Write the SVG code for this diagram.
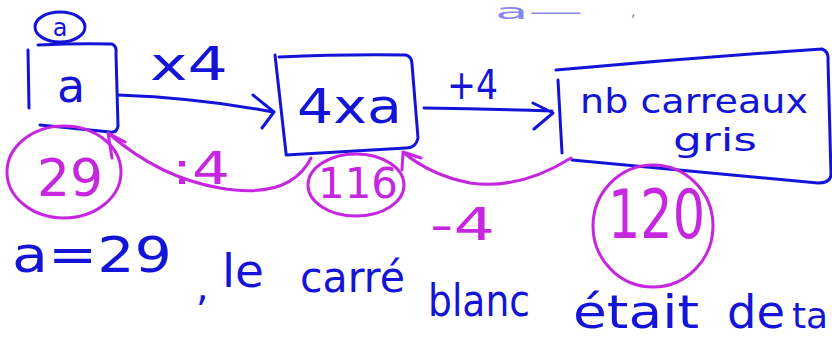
<svg xmlns="http://www.w3.org/2000/svg" width="832" height="342" viewBox="0 0 832 342">
<style>
.b{fill:none;stroke:#1414d8;stroke-width:3;stroke-linecap:round;stroke-linejoin:round}
.m{fill:none;stroke:#c626e0;stroke-width:3;stroke-linecap:round;stroke-linejoin:round}
.tb{fill:#1414d8;font-family:"DejaVu Sans","Liberation Sans",sans-serif}
.tm{fill:#c626e0;font-family:"DejaVu Sans","Liberation Sans",sans-serif}
</style>
<rect width="832" height="342" fill="#fff"/>
<text class="tb" x="495" y="19" font-size="22" opacity="0.5" textLength="88" lengthAdjust="spacingAndGlyphs">a—</text>
<text class="tb" x="631" y="16" font-size="14" opacity="0.6">,</text>
<g id="label-a">
<ellipse class="b" cx="60" cy="27" rx="25" ry="15"/>
<text class="tb" x="60" y="36" font-size="24" text-anchor="middle">a</text>
</g>
<g id="box-a">
<path class="b" d="M28 50 L29 108 M38 45 Q80 43 112 44 Q117 46 116 54 L118 126 Q117 133 110 132 L40 125"/>
<text class="tb" x="71" y="102" font-size="46" text-anchor="middle">a</text>
</g>
<g id="box-4xa">
<path class="b" d="M275 55 L286 153 M279 57 Q345 54 406 55 Q412 57 412 64 L418 138 Q416 148 406 148 L286 155"/>
<text class="tb" x="297" y="123" font-size="48" textLength="105" lengthAdjust="spacingAndGlyphs">4xa</text>
</g>
<g id="box-gris">
<path class="b" d="M558 80 L562 153 M556 70 Q690 58 822 49 Q829 52 828 60 L831 175 Q830 183 818 183 L572 160"/>
<text class="tb" x="580" y="113" font-size="33" textLength="228" lengthAdjust="spacingAndGlyphs">nb carreaux</text>
<text class="tb" x="673" y="151" font-size="32" textLength="84" lengthAdjust="spacingAndGlyphs">gris</text>
</g>
<g id="val-29">
<ellipse class="m" cx="64" cy="172" rx="57" ry="46"/>
<text class="tm" x="37" y="196" font-size="52" textLength="66" lengthAdjust="spacingAndGlyphs">29</text>
</g>
<g id="val-116">
<ellipse class="m" cx="356" cy="185" rx="48" ry="31"/>
<text class="tm" x="318" y="198" font-size="42" textLength="80" lengthAdjust="spacingAndGlyphs">116</text>
</g>
<g id="val-120">
<ellipse class="m" cx="653" cy="226" rx="60" ry="61"/>
<text class="tm" x="608" y="238" font-size="68" textLength="97" lengthAdjust="spacingAndGlyphs">120</text>
</g>
<g id="connectors">
<path class="b" d="M118 95 Q200 98 273 112 M253 95 L274 112 L262 128"/>
<text class="tb" x="150" y="80" font-size="46" textLength="78" lengthAdjust="spacingAndGlyphs">x4</text>
<path class="b" d="M424 108 Q490 109 552 111 M533 103 L553 113 L534 129"/>
<text class="tb" x="447" y="99" font-size="40" textLength="51" lengthAdjust="spacingAndGlyphs">+4</text>
<path class="m" d="M311 158 Q290 200 220 188 Q160 178 108 133 M125 142 L108 133 L112 158"/>
<text class="tm" x="172" y="184" font-size="44" textLength="58" lengthAdjust="spacingAndGlyphs">:4</text>
<path class="m" d="M571 158 Q520 190 470 183 Q430 175 403 152 M421 158 L403 152 L402 170"/>
<text class="tm" x="430" y="240" font-size="44" textLength="65" lengthAdjust="spacingAndGlyphs">-4</text>
</g>
<g id="note">
<text class="tb" x="12" y="272" font-size="50" textLength="160" lengthAdjust="spacingAndGlyphs">a=29</text>
<text class="tb" x="196" y="300" font-size="40">,</text>
<text class="tb" x="222" y="287" font-size="46" textLength="42" lengthAdjust="spacingAndGlyphs">le</text>
<text class="tb" x="300" y="292" font-size="42" textLength="105" lengthAdjust="spacingAndGlyphs">carré</text>
<text class="tb" x="428" y="316" font-size="44" textLength="102" lengthAdjust="spacingAndGlyphs">blanc</text>
<text class="tb" x="573" y="328" font-size="46" textLength="126" lengthAdjust="spacingAndGlyphs">était</text>
<text class="tb" x="727" y="328" font-size="46" textLength="58" lengthAdjust="spacingAndGlyphs">de</text>
<text class="tb" x="792" y="328" font-size="36">ta</text>
</g>
</svg>
